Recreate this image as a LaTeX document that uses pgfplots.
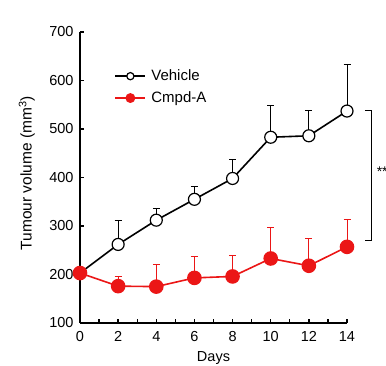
\documentclass[border=0pt]{standalone}
\usepackage{pgfplots}
\pgfplotsset{compat=1.18}
\usepackage{fontspec}
\setmainfont{Liberation Sans}
\definecolor{cred}{RGB}{235,22,22}
\begin{document}
\begin{tikzpicture}[x=1pt,y=1pt]
\useasboundingbox (0,0) rectangle (386,366);
\begin{axis}[
  at={(80pt,43pt)}, anchor=south west,
  scale only axis, width=267pt, height=291pt,
  xmin=0, xmax=14, ymin=100, ymax=700,
  axis lines=left, axis line style={-, line width=2.4pt},
  clip=false,
  xtick={0,2,...,14}, minor xtick={1,3,...,13},
  ytick={100,200,...,700},
  tick align=inside,
  major tick length=4pt, minor tick length=4pt,
  every tick/.style={black, line width=1.4pt},
  /pgf/number format/assume math mode=true,
  ticklabel style={font=\fontsize{14.5}{16}\selectfont},
  xticklabel style={yshift=-5pt},
  yticklabel style={xshift=-3pt},
  xlabel={Days}, ylabel={Tumour volume (mm\textsuperscript{3})},
  xlabel style={font=\fontsize{14.5}{16}\selectfont, at={(axis description cs:0.5,-0.12)}, anchor=center},
  ylabel style={font=\fontsize{15.5}{17}\selectfont, at={(axis description cs:-0.199,0.515)}, anchor=center, rotate=0},
  legend style={at={(axis description cs:0.128,0.877)}, anchor=north west, draw=none, fill=none,
    font=\fontsize{15}{17}\selectfont, row sep=5.5pt, inner sep=0pt},
  legend cell align=left,
  legend image code/.code={\draw[mark repeat=2,mark phase=2] plot coordinates {(0pt,0pt) (15pt,0pt) (30pt,0pt)};\path (33pt,0pt);},
]
\addlegendimage{black, line width=1.6pt, mark=*, mark size=3.6pt, mark options={fill=white, line width=1.2pt}}
\addlegendentry{Vehicle}
\addlegendimage{cred, line width=2pt, mark=*, mark size=3.9pt, mark options={fill=cred, draw=cred}}
\addlegendentry{Cmpd-A}
\addplot[forget plot, black, line width=1.6pt, mark=*, mark size=6pt,
  mark options={fill=white, line width=1.2pt},
  error bars/.cd, y dir=plus, y explicit,
  error bar style={line width=1pt, black},
  error mark options={rotate=90, mark size=3.5pt, line width=1pt}]
  table[x=x, y=y, y error=e] {
x y e
0 203 0
2 262 50
4 312 25
6 355 27
8 398 39
10 483 65
12 486 53
14 537 95
};
\addplot[forget plot, cred, line width=1.6pt, mark=*, mark size=6.5pt,
  mark options={fill=cred, draw=cred},
  error bars/.cd, y dir=plus, y explicit,
  error bar style={line width=1pt, cred},
  error mark options={rotate=90, mark size=3.5pt, line width=1pt, cred}]
  table[x=x, y=y, y error=e] {
x y e
0 203 0
2 176 20
4 175 45
6 193 44
8 196 43
10 233 63
12 218 57
14 257 57
};
\draw[line width=1pt] (axis cs:14.94,539) -- (axis cs:15.26,539) -- (axis cs:15.26,271) -- (axis cs:14.94,271);
\node[anchor=west, font=\fontsize{14}{16}\selectfont, inner sep=0pt] at (axis cs:15.55,412) {**};
\end{axis}
\end{tikzpicture}
\end{document}
